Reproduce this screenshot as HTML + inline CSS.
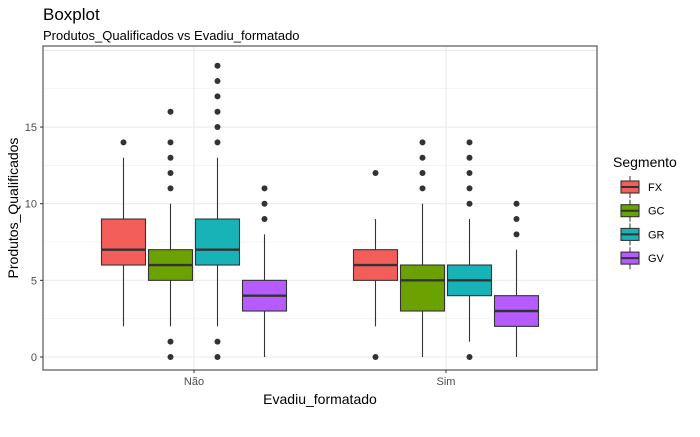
<!DOCTYPE html>
<html><head><meta charset="utf-8"><style>
body{margin:0;background:#fff;font-family:"Liberation Sans",Arial,sans-serif}
svg text{font-family:"Liberation Sans",Arial,sans-serif}
</style></head><body>
<svg id="chart" width="700" height="432">
<text x="43" y="20" font-size="17" fill="#000">Boxplot</text>
<text x="43" y="40" font-size="13" fill="#000">Produtos_Qualificados vs Evadiu_formatado</text>
<rect x="43" y="46" width="554" height="324" fill="#fff" stroke="none"/>
<g id="grid"></g><g id="marks"></g>
<rect x="43" y="46" width="554" height="324" fill="none" stroke="#333" stroke-width="1"/>
<g id="axes"></g>
<text x="320" y="404" font-size="14" text-anchor="middle">Evadiu_formatado</text>
<text transform="translate(18,208) rotate(-90)" font-size="14" text-anchor="middle">Produtos_Qualificados</text>
<g id="legend">
<text x="613" y="167" font-size="14">Segmento</text>
</g>
</svg>
<script>
const categories=["Não","Sim"];
const segments=["FX","GC","GR","GV"];
const colors=["#F8766D","#7CAE00","#00BFC4","#C77CFF"];
const fills=["#F35E5A","#6BA100","#17B3B7","#B65BFF"];
const yTicks=[0,5,10,15];
// [lowWhisker, q1, median, q3, highWhisker]
const statsNao=[[2,6,7,9,13],[2,5,6,7,10],[2,6,7,9,13],[0,3,4,5,8]];
const statsSim=[[2,5,6,7,9],[0,3,5,6,10],[1,4,5,6,9],[0,2,3,4,7]];
const outliersNao=[[14],[0,1,11,12,13,14,16],[0,1,14,15,16,17,18,19],[9,10,11]];
const outliersSim=[[0,12],[11,12,13,14],[0,10,11,12,13,14],[8,9,10]];
const stats=[statsNao,statsSim], outliers=[outliersNao,outliersSim];
const NS="http://www.w3.org/2000/svg";
const y=v=>357-v*15.33;
const xc=i=>194+i*252;
const bw=44, step=47;
function mk(t,a,p){const e=document.createElementNS(NS,t);for(const k in a)e.setAttribute(k,a[k]);p.appendChild(e);return e;}
const grid=document.getElementById('grid'),marks=document.getElementById('marks'),axes=document.getElementById('axes');
for(let v=-2.5;v<=20;v+=2.5){const yy=y(v);if(yy<46||yy>370)continue;
 const major=v%5===0;
 const l=mk('line',{x1:43,x2:597,y1:yy,y2:yy,stroke:'#ebebeb','stroke-width':major?1.1:0.5},grid);
 
 }
categories.forEach((c,i)=>{const l=mk('line',{x1:xc(i),x2:xc(i),y1:46,y2:370,stroke:'#ebebeb','stroke-width':1.1},grid);
 
 
 const t=mk('line',{x1:xc(i),x2:xc(i),y1:370,y2:373,stroke:'#333'},axes);
 
 
 const tx=mk('text',{x:xc(i),y:385,'font-size':11,'text-anchor':'middle',fill:'#4d4d4d'},axes);tx.textContent=c;
 
 });
yTicks.forEach(v=>{const t=mk('line',{x1:40,x2:43,y1:y(v),y2:y(v),stroke:'#333'},axes);
 
 
 const tx=mk('text',{x:37,y:y(v)+4,'font-size':11,'text-anchor':'end',fill:'#4d4d4d'},axes);tx.textContent=v;
 
 });
categories.forEach((c,i)=>{segments.forEach((s,j)=>{
 const cx=xc(i)+(j-1.5)*step, st=stats[i][j];
 const g=mk('g',{},marks);
 
 
 mk('line',{x1:cx,x2:cx,y1:y(st[0]),y2:y(st[1]),stroke:'#333','stroke-width':1.1},g);
 mk('line',{x1:cx,x2:cx,y1:y(st[3]),y2:y(st[4]),stroke:'#333','stroke-width':1.1},g);
 mk('rect',{x:cx-bw/2,y:y(st[3]),width:bw,height:y(st[1])-y(st[3]),fill:fills[j],stroke:'#333','stroke-width':1.1},g);
 mk('line',{x1:cx-bw/2,x2:cx+bw/2,y1:y(st[2]),y2:y(st[2]),stroke:'#333','stroke-width':2.4},g);
 outliers[i][j].forEach(o=>{const p=mk('circle',{cx:cx,cy:y(o),r:3,fill:'#333'},g);
  
  });
});});
const lg=document.getElementById('legend');
segments.forEach((s,j)=>{const yy=187+j*23.7;
 const g=mk('g',{},lg);
 
 
 mk('line',{x1:630,x2:630,y1:yy-11,y2:yy+11,stroke:'#333'},g);
 mk('rect',{x:621,y:yy-6,width:18,height:12,fill:fills[j],stroke:'#333','stroke-width':1.1},g);
 mk('line',{x1:621,x2:639,y1:yy,y2:yy,stroke:'#333','stroke-width':2},g);
 const t=mk('text',{x:648,y:yy+4,'font-size':11},g);t.textContent=s;});
</script>
</body></html>
